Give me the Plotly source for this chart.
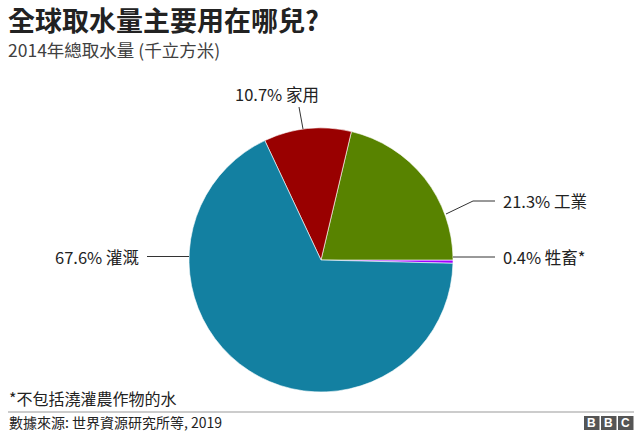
import plotly.graph_objects as go

# Data
categories = ["牲畜", "工業", "家用", "灌溉"]
values = [0.4, 21.3, 10.7, 67.6]
label_suffix = ["*", "", "", ""]
colors = ["#a000ff", "#588300", "#990000", "#1380a1"]

W, H = 641, 435
FONT = "Noto Sans CJK TC"


def px(x):
    return x / W


def py(y):
    return 1 - y / H


fig = go.Figure()
fig.add_trace(go.Pie(
    labels=categories,
    values=values,
    sort=False,
    direction="counterclockwise",
    rotation=90,
    marker=dict(colors=colors, line=dict(color="white", width=0.6)),
    textinfo="none",
    hoverinfo="label+percent",
    showlegend=False,
    domain=dict(x=[px(189), px(453)], y=[py(392), py(128)]),
))

label_text = [f"{v}% {c}{s}" for v, c, s in zip(values, categories, label_suffix)]

# label placement (pixel positions) : (x, y, xanchor)
label_pos = {
    "牲畜": (501, 257, "left"),
    "工業": (501, 201, "left"),
    "家用": (277, 94, "center"),
    "灌溉": (141, 257, "right"),
}
# leader lines (pixel paths)
leaders = {
    "牲畜": [(453, 257), (495, 257)],
    "工業": [(446, 214), (473, 201), (495, 201)],
    "家用": [(303, 129), (299, 107)],
    "灌溉": [(189, 256.5), (147, 256.5)],
}

annotations = []
shapes = []
for c, t in zip(categories, label_text):
    x, y, xa = label_pos[c]
    annotations.append(dict(x=px(x), y=py(y), xref="paper", yref="paper",
                            text=t, showarrow=False, xanchor=xa, yanchor="middle",
                            font=dict(family=FONT, size=16.5, color="#222222")))
    pts = leaders[c]
    path = "M " + " L ".join(f"{px(a)},{py(b)}" for a, b in pts)
    shapes.append(dict(type="path", path=path, xref="paper", yref="paper",
                       line=dict(color="#333333", width=1)))

# title / subtitle / notes
annotations += [
    dict(x=px(6), y=py(19), xref="paper", yref="paper", text="<b>全球取水量主要用在哪兒?</b>",
         showarrow=False, xanchor="left", yanchor="middle",
         font=dict(family=FONT, size=27, color="#222222")),
    dict(x=px(6), y=py(49), xref="paper", yref="paper", text="2014年總取水量 (千立方米)",
         showarrow=False, xanchor="left", yanchor="middle",
         font=dict(family=FONT, size=17.5, color="#404040")),
    dict(x=px(7), y=py(398), xref="paper", yref="paper", text="*不包括澆灌農作物的水",
         showarrow=False, xanchor="left", yanchor="middle",
         font=dict(family=FONT, size=16, color="#222222")),
    dict(x=px(7), y=py(422), xref="paper", yref="paper", text="數據來源: 世界資源研究所等, 2019",
         showarrow=False, xanchor="left", yanchor="middle",
         font=dict(family=FONT, size=14, color="#222222")),
]

# separator line
shapes.append(dict(type="line", xref="paper", yref="paper", x0=px(8), x1=px(634),
                   y0=py(412), y1=py(412), line=dict(color="#bbbbbb", width=1.5)))

# BBC logo
for i, letter in enumerate("BBC"):
    x0 = 584 + i * 17
    shapes.append(dict(type="rect", xref="paper", yref="paper", x0=px(x0), x1=px(x0 + 15.5),
                       y0=py(430), y1=py(416), fillcolor="#555555", line=dict(width=0)))
    annotations.append(dict(x=px(x0 + 7.75), y=py(423), xref="paper", yref="paper", text=f"<b>{letter}</b>",
                            showarrow=False, xanchor="center", yanchor="middle",
                            font=dict(family="Liberation Sans", size=12, color="white")))

fig.update_layout(
    width=W, height=H,
    margin=dict(l=0, r=0, t=0, b=0),
    paper_bgcolor="white", plot_bgcolor="white",
    annotations=annotations, shapes=shapes,
)

fig.write_html("out.html", config={"displayModeBar": False},
               post_script="document.body.style.margin='0';")
